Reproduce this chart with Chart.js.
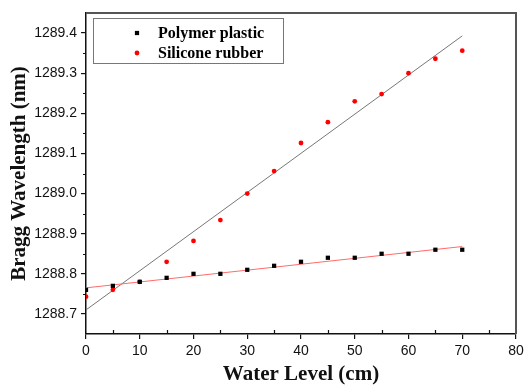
<!DOCTYPE html>
<html><head><meta charset="utf-8">
<script src="https://cdn.jsdelivr.net/npm/chart.js@4"></script>
<style>html,body{margin:0;padding:0;background:#fff}#wrap{width:524px;height:385px;position:relative}</style>
</head><body><div id="wrap"><canvas id="c"></canvas></div>
<script>
const waterLevel = [0,5,10,15,20,25,30,35,40,45,50,55,60,65,70];
const polymerPlastic = [1288.76,1288.77,1288.78,1288.79,1288.80,1288.80,1288.81,1288.82,1288.83,1288.84,1288.84,1288.85,1288.85,1288.86,1288.86];
const siliconeRubber = [1288.743,1288.76,1288.78,1288.83,1288.882,1288.934,1289.00,1289.056,1289.126,1289.178,1289.23,1289.248,1289.30,1289.336,1289.356];
const fitX = [0,70];
const polymerFit = [1288.765,1288.868];
const siliconeFit = [1288.71,1289.393];
const xTicks = [0,10,20,30,40,50,60,70,80];
const xMinorTicks = [5,15,25,35,45,55,65,75];
const yTicks = [1288.7,1288.8,1288.9,1289.0,1289.1,1289.2,1289.3,1289.4];
const yMinorTicks = [1288.75,1288.85,1288.95,1289.05,1289.15,1289.25,1289.35];

const pts = (xs, ys) => xs.map((x,i)=>({x:x,y:ys[i]}));

const framePlugin = {
  id:'frame',
  afterDraw(chart){
    const {ctx, chartArea:a, scales} = chart;
    ctx.save();
    ctx.strokeStyle='#555'; ctx.lineWidth=2;
    ctx.beginPath();
    ctx.moveTo(a.left, a.top); ctx.lineTo(a.right, a.top); ctx.lineTo(a.right, a.bottom);
    ctx.stroke();
    ctx.strokeStyle='#111'; ctx.lineWidth=1.2;
    ctx.beginPath();
    yMinorTicks.forEach(v=>{const y=Math.round(scales.y.getPixelForValue(v))+0.5; ctx.moveTo(a.left,y); ctx.lineTo(a.left-3,y);});
    xMinorTicks.forEach(v=>{const x=Math.round(scales.x.getPixelForValue(v))+0.5; ctx.moveTo(x,a.bottom); ctx.lineTo(x,a.bottom-4);});
    ctx.stroke();
    const lx=a.left+7, ly=a.top+5, lw=190, lh=45;
    ctx.strokeStyle='#777'; ctx.lineWidth=1;
    ctx.strokeRect(Math.round(lx)+0.5, Math.round(ly)+0.5, lw, lh);
    ctx.font='bold 16px "Liberation Serif", "Times New Roman", serif';
    ctx.textBaseline='middle'; ctx.textAlign='left';
    [0,1].forEach((di,i)=>{
      const ds=chart.data.datasets[di];
      const cy=ly+15+i*20;
      ctx.fillStyle=ds.backgroundColor;
      Chart.helpers.drawPoint(ctx,{pointStyle:ds.pointStyle,radius:ds.pointRadius,borderWidth:0,rotation:0},lx+44,cy);
      ctx.fillStyle='#000';
      ctx.fillText(ds.label, lx+65, cy+1);
    });
    ctx.restore();
  }
};

new Chart(document.getElementById('c'), {
  type:'scatter',
  data:{datasets:[
    {label:'Polymer plastic', data:pts(waterLevel,polymerPlastic), pointStyle:'rect', pointRadius:3, backgroundColor:'#000', borderColor:'#000', borderWidth:0, order:0},
    {label:'Silicone rubber', data:pts(waterLevel,siliconeRubber), pointStyle:'circle', pointRadius:2.4, backgroundColor:'#ff0000', borderColor:'#ff0000', borderWidth:0, order:0},
    {label:'fitP', type:'line', data:pts(fitX,polymerFit), borderColor:'#ff6b6b', borderWidth:1, pointRadius:0, fill:false, order:1},
    {label:'fitS', type:'line', data:pts(fitX,siliconeFit), borderColor:'#777', borderWidth:1, pointRadius:0, fill:false, order:1}
  ]},
  options:{
    responsive:true, maintainAspectRatio:false, animation:false,
    layout:{padding:{top:13,right:8,left:0,bottom:0}},
    plugins:{legend:{display:false}, tooltip:{enabled:false}},
    scales:{
      x:{type:'linear', min:0, max:80,
        afterBuildTicks:s=>{s.ticks=xTicks.map(v=>({value:v}));},
        afterFit:s=>{s.height=51; s.paddingRight=0; s.paddingLeft=0;},
        grid:{drawOnChartArea:false, tickLength:5, color:'#111', lineWidth:1.2},
        border:{color:'#111', width:1.5},
        ticks:{color:'#111', font:{family:'"Liberation Sans", Arial, sans-serif', size:14}, padding:4, autoSkip:false, maxRotation:0},
        title:{display:true, text:'Water Level (cm)', color:'#111', font:{family:'"Liberation Serif", "Times New Roman", serif', size:21, weight:'bold', lineHeight:1}, padding:{top:0,bottom:0}}
      },
      y:{type:'linear', min:1288.65, max:1289.45,
        afterBuildTicks:s=>{s.ticks=yTicks.map(v=>({value:v}));},
        afterFit:s=>{s.width=86; s.paddingTop=0; s.paddingBottom=0;},
        grid:{drawOnChartArea:false, tickLength:5, color:'#111', lineWidth:1.2},
        border:{color:'#111', width:1.5},
        ticks:{color:'#111', font:{family:'"Liberation Sans", Arial, sans-serif', size:14}, padding:4, autoSkip:false, callback:v=>v.toFixed(1)},
        title:{display:true, text:'Bragg Wavelength (nm)', color:'#111', font:{family:'"Liberation Serif", "Times New Roman", serif', size:21, weight:'bold', lineHeight:1}, padding:{top:9,bottom:0}}
      }
    }
  },
  plugins:[framePlugin]
});
</script></body></html>
